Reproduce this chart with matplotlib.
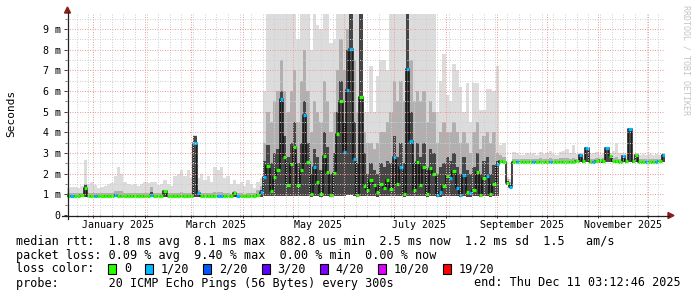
"""
SmokePing style latency chart: median rtt with smoke bands over the last 360 days
"""
import datetime as dt
import numpy as np
import matplotlib
matplotlib.use('Agg')
import matplotlib.pyplot as plt
import matplotlib.dates as mdates
from matplotlib.patches import Rectangle, Polygon
from matplotlib.lines import Line2D
from matplotlib.ticker import FixedLocator, NullFormatter

plt.rcParams['font.family'] = ['DejaVu Sans Mono']

# Step 1 - data (milliseconds, one value per 2 day step)
end_time = dt.datetime(2025, 12, 11, 3, 12, 46)
span_days = 360
step_days = 2

median_ms = [
    0.93, 0.94, 0.93, 0.93, 0.95, 1.30, 0.93, 0.94, 0.94, 0.93,
    0.94, 0.93, 0.93, 0.94, 0.95, 0.94, 0.93, 0.93, 0.94, 0.94,
    0.93, 0.94, 0.93, 0.92, 0.93, 0.95, 0.93, 0.93, 0.94, 1.15,
    0.93, 0.92, 0.93, 0.93, 0.94, 0.93, 0.93, 0.94, 3.50, 1.05,
    0.93, 0.93, 0.92, 0.93, 0.92, 0.93, 0.92, 0.92, 0.91, 0.91,
    1.05, 0.92, 0.91, 0.91, 0.92, 0.92, 0.93, 0.95, 1.13, 1.85,
    2.37, 1.16, 1.85, 2.20, 5.60, 2.80, 1.45, 2.47, 3.30, 1.45,
    2.20, 4.84, 2.58, 1.00, 2.30, 1.60, 1.00, 2.87, 2.10, 0.97,
    2.05, 3.92, 5.53, 3.05, 6.05, 8.03, 2.70, 0.95, 5.70, 1.40,
    1.20, 1.68, 1.45, 1.10, 1.50, 1.30, 1.70, 1.25, 2.82, 1.50,
    2.33, 1.00, 7.05, 3.58, 1.20, 2.56, 1.45, 2.30, 1.00, 2.25,
    2.00, 0.95, 1.10, 1.40, 1.90, 1.80, 2.15, 1.30, 0.95, 1.95,
    1.10, 1.05, 1.20, 2.10, 0.95, 1.80, 1.90, 1.00, 1.50, 2.45,
    2.60, 2.55, 1.56, 1.37, 2.58, 2.58, 2.57, 2.58, 2.58, 2.57,
    2.58, 2.58, 2.58, 2.57, 2.58, 2.58, 2.58, 2.57, 2.58, 2.58,
    2.58, 2.57, 2.58, 2.60, 2.88, 2.60, 3.26, 2.58, 2.58, 2.60,
    2.65, 2.60, 3.22, 2.85, 2.60, 2.60, 2.58, 2.85, 2.60, 4.15,
    2.60, 2.90, 2.58, 2.58, 2.58, 2.57, 2.58, 2.58, 2.60, 2.90,
]

# lowest ping of each step
smoke_lo = [
    0.87, 0.87, 0.88, 0.87, 0.87, 0.88, 0.87, 0.87, 0.88, 0.87,
    0.87, 0.87, 0.88, 0.87, 0.87, 0.87, 0.88, 0.87, 0.87, 0.87,
    0.87, 0.88, 0.87, 0.86, 0.87, 0.88, 0.87, 0.87, 0.87, 0.88,
    0.87, 0.86, 0.87, 0.87, 0.88, 0.87, 0.87, 0.87, 0.88, 0.87,
    0.87, 0.87, 0.86, 0.87, 0.86, 0.87, 0.86, 0.86, 0.86, 0.86,
    0.87, 0.86, 0.86, 0.86, 0.86, 0.86, 0.87, 0.87, 0.88, 0.90,
    0.90, 0.90, 0.91, 0.90, 0.92, 0.90, 0.90, 0.91, 0.90, 0.90,
    0.90, 0.92, 0.90, 0.89, 0.90, 0.90, 0.89, 0.91, 0.90, 0.89,
    0.90, 0.92, 0.93, 0.90, 0.95, 0.97, 0.90, 0.89, 0.92, 0.90,
    0.90, 0.90, 0.90, 0.89, 0.90, 0.90, 0.90, 0.90, 0.91, 0.90,
    0.90, 0.89, 0.93, 0.91, 0.90, 0.90, 0.90, 0.90, 0.89, 0.90,
    0.90, 0.89, 0.89, 0.90, 0.90, 0.90, 0.90, 0.90, 0.89, 0.90,
    0.89, 0.89, 0.90, 0.90, 0.89, 0.90, 0.90, 0.89, 0.90, 0.92,
    2.50, 2.50, 1.45, 1.30, 2.52, 2.52, 2.52, 2.52, 2.52, 2.52,
    2.52, 2.52, 2.52, 2.52, 2.52, 2.52, 2.52, 2.52, 2.52, 2.52,
    2.52, 2.52, 2.52, 2.53, 2.55, 2.53, 2.55, 2.52, 2.52, 2.53,
    2.53, 2.52, 2.55, 2.54, 2.52, 2.52, 2.52, 2.54, 2.52, 2.56,
    2.52, 2.54, 2.52, 2.52, 2.52, 2.52, 2.52, 2.52, 2.53, 2.55,
]

# top of the dark core of the smoke
smoke_dark = [
    0.97, 0.98, 0.97, 0.97, 0.99, 1.45, 0.97, 0.98, 0.98, 0.97,
    0.98, 0.97, 0.97, 0.98, 0.99, 0.98, 0.97, 0.97, 0.98, 0.98,
    0.97, 0.98, 0.97, 0.96, 0.97, 1.10, 0.97, 0.97, 0.98, 1.18,
    0.97, 0.96, 0.97, 0.97, 0.98, 0.97, 0.97, 0.98, 3.80, 1.10,
    0.97, 0.97, 0.96, 0.97, 0.96, 0.97, 0.96, 0.96, 0.95, 0.95,
    1.12, 0.96, 0.95, 0.95, 0.96, 0.96, 0.97, 1.00, 1.20, 2.60,
    3.40, 2.50, 3.00, 3.20, 6.00, 3.80, 2.80, 3.50, 4.50, 2.50,
    3.50, 5.50, 3.50, 2.00, 3.20, 2.80, 2.20, 4.00, 3.30, 2.00,
    3.00, 5.00, 6.50, 4.50, 8.00, 9.80, 4.50, 2.50, 9.80, 3.00,
    2.00, 2.50, 2.20, 2.00, 2.50, 2.30, 2.60, 2.50, 3.80, 2.80,
    3.50, 2.50, 9.80, 5.00, 2.50, 3.50, 2.80, 3.50, 2.20, 3.20,
    3.00, 2.00, 2.30, 2.50, 2.80, 2.60, 3.00, 2.30, 2.00, 2.80,
    2.20, 2.00, 2.30, 3.00, 2.00, 2.60, 2.80, 2.00, 2.40, 2.60,
    2.65, 2.60, 1.65, 1.45, 2.62, 2.62, 2.62, 2.62, 2.62, 2.62,
    2.62, 2.62, 2.62, 2.62, 2.62, 2.62, 2.62, 2.62, 2.62, 2.62,
    2.62, 2.62, 2.62, 2.63, 2.90, 2.63, 3.28, 2.62, 2.62, 2.63,
    2.67, 2.63, 3.24, 2.87, 2.63, 2.63, 2.62, 2.87, 2.63, 4.18,
    2.63, 2.92, 2.62, 2.62, 2.62, 2.62, 2.62, 2.62, 2.63, 2.92,
]

# top of the medium grey smoke
smoke_mid = [
    1.04, 1.05, 1.04, 1.04, 1.06, 1.50, 1.05, 1.06, 1.05, 1.04,
    1.05, 1.04, 1.05, 1.06, 1.15, 1.15, 1.15, 1.05, 1.05, 1.05,
    1.04, 1.05, 1.04, 1.04, 1.05, 1.35, 1.05, 1.04, 1.05, 1.20,
    1.04, 1.04, 1.08, 1.08, 1.10, 1.06, 1.08, 1.06, 3.82, 1.20,
    1.06, 1.05, 1.05, 1.04, 1.12, 1.12, 1.12, 1.05, 1.05, 1.03,
    1.15, 1.04, 1.04, 1.03, 1.04, 1.04, 1.05, 1.20, 1.40, 3.50,
    5.00, 4.50, 5.50, 6.00, 7.50, 6.00, 5.00, 6.00, 7.00, 4.50,
    6.50, 8.00, 6.00, 4.00, 5.50, 5.00, 4.50, 6.50, 5.50, 4.00,
    5.00, 7.00, 8.50, 7.00, 9.00, 9.80, 7.50, 5.00, 9.80, 4.00,
    3.50, 3.50, 3.20, 3.50, 4.00, 4.00, 4.50, 5.00, 6.50, 5.50,
    6.50, 5.50, 9.80, 7.50, 5.50, 6.00, 5.50, 6.00, 4.50, 5.50,
    5.00, 3.50, 4.00, 4.50, 4.00, 4.00, 4.50, 4.00, 3.50, 4.00,
    3.50, 3.00, 4.00, 4.50, 3.20, 3.80, 4.00, 3.50, 4.00, 3.00,
    2.90, 2.80, 1.75, 1.60, 2.72, 2.72, 2.70, 2.72, 2.72, 2.70,
    2.72, 2.72, 2.74, 2.70, 2.72, 2.74, 2.72, 2.70, 2.74, 2.74,
    2.76, 2.72, 2.78, 2.72, 2.93, 2.70, 3.31, 2.72, 2.72, 2.74,
    2.72, 2.74, 3.27, 2.90, 2.74, 2.80, 2.72, 2.90, 2.72, 4.20,
    2.72, 2.95, 2.70, 2.72, 2.70, 2.72, 2.70, 2.72, 2.70, 2.95,
]

# highest ping of each step
smoke_hi = [
    1.30, 1.35, 1.35, 1.30, 1.40, 2.66, 1.50, 1.60, 1.45, 1.30,
    1.35, 1.40, 1.50, 1.55, 1.90, 2.30, 2.00, 1.60, 1.50, 1.45,
    1.50, 1.40, 1.50, 1.60, 1.55, 1.60, 1.60, 1.45, 1.50, 1.70,
    1.50, 1.40, 1.90, 2.00, 2.20, 1.90, 2.20, 1.80, 3.85, 1.80,
    2.00, 1.70, 1.90, 1.60, 2.30, 2.20, 2.30, 1.80, 1.90, 1.50,
    1.70, 1.50, 1.60, 1.40, 1.70, 1.50, 1.30, 1.60, 1.80, 6.00,
    9.80, 9.80, 9.80, 9.80, 9.80, 9.80, 9.80, 9.80, 9.80, 8.50,
    9.80, 9.80, 9.80, 8.00, 9.80, 9.20, 9.00, 9.80, 9.80, 8.30,
    8.50, 9.80, 9.80, 9.80, 9.80, 9.80, 9.80, 9.80, 9.80, 5.00,
    5.00, 7.20, 5.00, 6.70, 7.50, 7.50, 7.00, 9.80, 9.80, 9.80,
    9.80, 9.80, 9.80, 9.80, 9.80, 9.80, 9.80, 9.80, 9.80, 9.80,
    9.80, 5.00, 6.50, 7.80, 5.80, 5.50, 7.30, 7.00, 6.20, 5.00,
    6.40, 4.50, 6.40, 6.40, 5.10, 5.10, 6.10, 6.10, 6.00, 7.20,
    3.40, 3.50, 1.85, 1.75, 3.05, 3.00, 2.90, 2.90, 3.00, 2.95,
    3.00, 2.90, 3.05, 2.95, 3.00, 3.10, 2.95, 2.90, 3.05, 3.10,
    3.20, 3.00, 3.40, 2.95, 3.00, 2.90, 3.30, 2.95, 3.00, 3.05,
    2.90, 3.00, 3.25, 3.00, 3.10, 3.50, 3.00, 3.00, 2.95, 4.20,
    2.95, 3.00, 2.90, 2.95, 2.90, 2.95, 2.90, 2.95, 2.90, 3.00,
]

# steps where 1 of 20 pings was lost (all other steps: no loss)
loss_1of20_steps = [1, 8, 14, 25, 38, 39, 45, 46, 51, 58,
                    59, 64, 71, 74, 83, 84, 85, 86, 98, 100, 102, 103,
                    111, 112, 115, 117, 118, 119, 121, 126, 129, 133,
                    135, 140, 145, 154, 156, 158, 162, 167, 169, 174, 177, 179]

loss_labels = ['0', '1/20', '2/20', '3/20', '4/20', '10/20', '19/20']
loss_colors = ['#26ff00', '#00b8ff', '#0059ff', '#5e00ff', '#7e00ff', '#dd00ff', '#ff0000']

y_ticks = [0, 1, 2, 3, 4, 5, 6, 7, 8, 9]
y_tick_labels = ['0', '1 m', '2 m', '3 m', '4 m', '5 m', '6 m', '7 m', '8 m', '9 m']
month_labels = ['January 2025', 'March 2025', 'May 2025', 'July 2025',
                'September 2025', 'November 2025']
month_starts = [dt.datetime(2025, m, 1) for m in (1, 3, 5, 7, 9, 11)]

legend_rows = [
    'median rtt:  1.8 ms avg  8.1 ms max  882.8 us min  2.5 ms now  1.2 ms sd  1.5   am/s',
    'packet loss: 0.09 % avg  9.40 % max  0.00 % min  0.00 % now',
    'loss color:',
    'probe:       20 ICMP Echo Pings (56 Bytes) every 300s',
]
end_text = 'end: Thu Dec 11 03:12:46 2025'

# Step 2 - build step edges
start_time = end_time - dt.timedelta(days=span_days)
edges = mdates.date2num([start_time + dt.timedelta(days=step_days * i)
                         for i in range(len(median_ms) + 1)])


def ext(values):
    return np.append(values, values[-1])


W, H = 697, 297


def fx(x):
    return x / W


def fy(y):
    return 1 - y / H


fig = plt.figure(figsize=(W / 100, H / 100), dpi=100)
ax = fig.add_axes([fx(67), fy(215), (665 - 67) / W, (215 - 14) / H])

# Step 3 - smoke and median
ax.fill_between(edges, ext(smoke_lo), ext(smoke_hi), step='post', color='#dcdcdc', lw=0)
ax.fill_between(edges, ext(smoke_lo), ext(smoke_mid), step='post', color='#b0b0b0', lw=0)
ax.fill_between(edges, ext(smoke_lo), ext(smoke_dark), step='post', color='#464646', lw=0)
ax.step(edges, ext(median_ms), where='post', color='#101010', lw=1.1)
colors = [loss_colors[1] if i in loss_1of20_steps else loss_colors[0]
          for i in range(len(median_ms))]
ax.hlines(median_ms, edges[:-1], edges[1:], colors=colors, lw=2.3)

ax.set_xlim(edges[0], edges[-1])
ax.set_ylim(0, 9.72)

# grid
ax.xaxis.set_major_locator(mdates.MonthLocator())
ax.xaxis.set_minor_locator(mdates.WeekdayLocator(byweekday=mdates.SU))
ax.xaxis.set_major_formatter(NullFormatter())
ax.set_yticks(y_ticks)
ax.set_yticklabels(y_tick_labels)
ax.yaxis.set_minor_locator(FixedLocator([v + 0.5 for v in y_ticks]))
ax.grid(which='minor', color='#d0d0d0', ls=(0, (1, 1.5)), lw=0.72)
ax.grid(which='major', color='#f09c9c', ls=(0, (1, 1.5)), lw=0.72)
ax.set_axisbelow(False)
ax.tick_params(which='major', direction='out', length=2, width=0.72, color='#404040',
               labelsize=7.2, pad=2.5)
ax.tick_params(which='minor', direction='out', length=1.5, width=0.72, color='#808080')
for s in ax.spines.values():
    s.set_visible(False)

for lab, d in zip(month_labels, month_starts):
    ax.text(mdates.date2num(d + dt.timedelta(days=15)), -10 / 201, lab,
            transform=ax.get_xaxis_transform(), ha='center', va='center', fontsize=7.2)

# axis lines and arrows
fig.add_artist(Line2D([fx(62), fx(669)], [fy(215.5), fy(215.5)], color='#202020', lw=0.9))
fig.add_artist(Line2D([fx(67.5), fx(67.5)], [fy(219), fy(12)], color='#202020', lw=0.9))
fig.add_artist(Polygon([(fx(64.5), fy(13)), (fx(70.5), fy(13)), (fx(67.5), fy(7))],
                       closed=True, color='#8c1c1c', transform=fig.transFigure))
fig.add_artist(Polygon([(fx(668), fy(212.5)), (fx(668), fy(218.5)), (fx(674), fy(215.5))],
                       closed=True, color='#8c1c1c', transform=fig.transFigure))

fig.text(fx(11), fy(113), 'Seconds', rotation=90, ha='center', va='center', fontsize=8)
fig.text(fx(686), fy(60), 'RRDTOOL / TOBI OETIKER', rotation=270, ha='center',
         va='center', fontsize=6, color='#c4c4c4')

# Step 4 - legend
char_w = 7.1
for k, row in enumerate(legend_rows):
    fig.text(fx(16), fy(241 + 14 * k), row, ha='left', va='center', fontsize=8.5)
fig.text(fx(681), fy(283), end_text, ha='right', va='center', fontsize=8.5)

x = 16 + 13 * char_w
for lab, col in zip(loss_labels, loss_colors):
    fig.add_artist(Rectangle((fx(x), fy(274)), 8 / W, 10 / H, facecolor=col,
                             edgecolor='black', lw=0.8, transform=fig.transFigure))
    fig.text(fx(x + 15.6), fy(269), lab, ha='left', va='center', fontsize=8.5)
    x = x + 15.6 + len(lab) * char_w + 14.2

fig.savefig('out.png', dpi=100)
